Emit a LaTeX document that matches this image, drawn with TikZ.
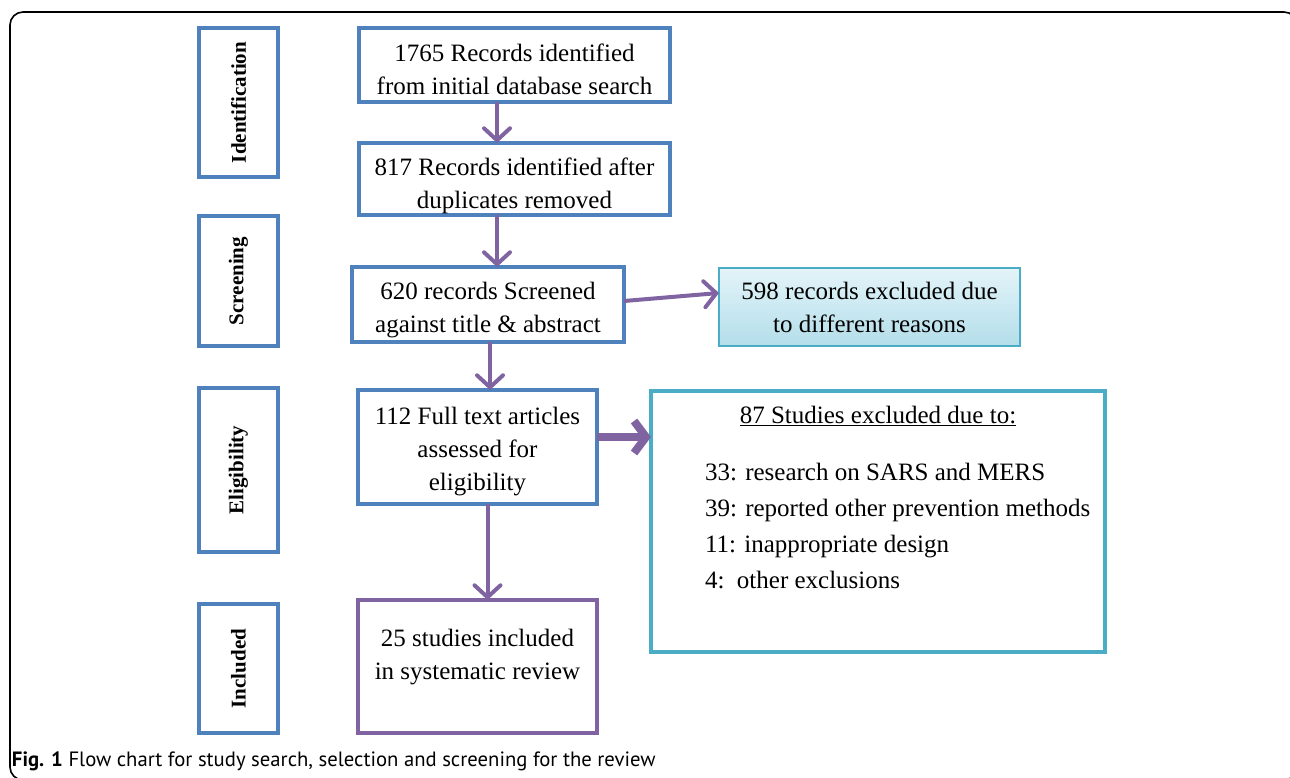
\documentclass[tikz,border=0pt]{standalone}
\usepackage{fontspec}
\setmainfont{Liberation Serif}
\newfontfamily\capfont{PT Sans}
\usetikzlibrary{arrows.meta,calc}
\definecolor{bxblue}{HTML}{4F81BD}
\definecolor{arpurple}{HTML}{8064A2}
\definecolor{tealb}{HTML}{4BACC6}
\definecolor{ltop}{HTML}{E4F4F9}
\definecolor{lbot}{HTML}{B3DEEA}
\begin{document}
\begin{tikzpicture}[x=1pt,y=-1pt,
  every node/.style={inner sep=0pt, outer sep=0pt},
  phase/.style={draw=bxblue, line width=3.5pt, minimum width=79pt, font=\fontsize{21}{24}\selectfont\bfseries},
  flowbox/.style={draw=bxblue, line width=3.5pt},
  txt/.style={align=center, font=\fontsize{25}{33}\selectfont},
  arr/.style={draw=arpurple, line width=4pt, -{Straight Barb[length=12pt,width=26pt,line cap=round]}},
  bigarr/.style={draw=arpurple, line width=8pt, -{Straight Barb[length=12pt,width=32pt]}}
]
\useasboundingbox (0,0) rectangle (1290,778);
% outer frame
\draw[line width=1.6pt, rounded corners=13pt] (10,12) rectangle (1297,780);
% phase labels
\node[phase, minimum height=149pt] (ident) at (238.5,102.5) {\rotatebox{90}{Identification}};
\node[phase, minimum height=130pt] (screen) at (238.5,281) {\rotatebox{90}{Screening}};
\node[phase, minimum height=164pt] (elig) at (238.5,470) {\rotatebox{90}{Eligibility}};
\node[phase, minimum height=129pt] (incl) at (238.5,668.5) {\rotatebox{90}{Included}};
% flow boxes
\node[flowbox, minimum width=311pt, minimum height=74pt] (b1) at (514.5,65) {};
\node[txt] (b1t) at (514.5,69) {1765 Records identified\\from initial database search};
\node[flowbox, minimum width=311pt, minimum height=72pt] (b2) at (514.5,179) {};
\node[txt] (b2t) at (514.5,185.5) {817 Records identified after\\duplicates removed};
\node[flowbox, minimum width=272pt, minimum height=75pt] (b3) at (488,304.5) {};
\node[txt] (b3t) at (488,310) {620 records Screened\\against title \& abstract};
\node[draw=tealb, line width=1.5pt, top color=ltop, bottom color=lbot, minimum width=301pt, minimum height=78pt, align=center, font=\fontsize{25}{33}\selectfont] (b4) at (869.5,307) {598 records excluded due\\to different reasons};
\node[flowbox, minimum width=239pt, minimum height=114pt] (b5) at (477.5,447) {};
\node[txt] (b5t) at (477.5,452) {112 Full text articles\\assessed for\\eligibility};
\node[draw=tealb, line width=3.5pt, minimum width=454pt, minimum height=261pt] (b6) at (878,521.5) {};
\node[txt] (b6h) at (878,416) {\underline{87 Studies excluded due to:}};
\node[txt, align=left, anchor=north west, font=\fontsize{25}{36}\selectfont] (b6l) at (705,463) {33: research on SARS and MERS\\39: reported other prevention methods\\11: inappropriate design\\4:\ \ other exclusions};
\node[draw=arpurple, line width=3.5pt, minimum width=239pt, minimum height=133pt] (b7) at (477.5,666.5) {};
\node[txt] (b7t) at (477.5,657) {25 studies included\\in systematic review};
% connectors
\draw[arr] ([xshift=-17.5pt]b1.south) -- ([xshift=-17.5pt]b1.south |- b2.north);
\draw[arr] ([xshift=-17.5pt]b2.south) -- ([xshift=-17.5pt]b2.south |- b3.north);
\draw[arr] ([yshift=3.5pt]b3.east) -- ([yshift=14pt]b4.west);
\draw[arr] ([xshift=2pt]b3.south) -- ([xshift=2pt]b3.south |- b5.north);
\draw[bigarr] ([yshift=10pt]b5.east) -- ([yshift=10pt]b5.east -| b6.west);
\draw[arr] ([xshift=10pt]b5.south) -- ([xshift=10pt]b5.south |- b7.north);
% caption
\node[anchor=west, font=\capfont\fontsize{20.7}{24}\selectfont] (cap) at (12,761) {\textbf{Fig. 1} Flow chart for study search, selection and screening for the review};
\end{tikzpicture}
\end{document}
